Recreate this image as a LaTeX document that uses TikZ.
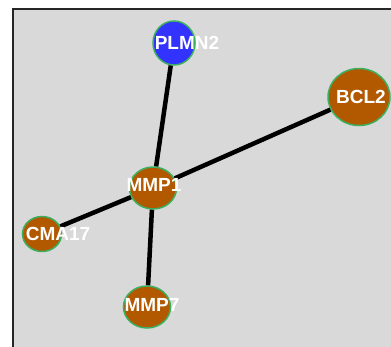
\documentclass[tikz,border=0pt]{standalone}
\usepackage{fontspec}
\setmainfont{Liberation Sans}
\usetikzlibrary{shapes.geometric}

\definecolor{panelgray}{HTML}{D9D9D9}
\definecolor{genebrown}{HTML}{B25900}
\definecolor{geneblue}{HTML}{3333FF}
\definecolor{ringgreen}{HTML}{3CB060}

\tikzset{
  gene/.style={ellipse, draw=ringgreen, line width=1.5pt, fill=genebrown, inner sep=0pt},
  genetext/.style={text=white, font=\fontsize{19}{19}\selectfont\bfseries, inner sep=0pt},
  link/.style={line width=4.5pt, black}
}

\begin{document}
\begin{tikzpicture}[x=1pt,y=-1pt]
    % Canvas
    \useasboundingbox (0,0) rectangle (391,346);
    \clip (0,0) rectangle (391,346);
    \fill[white] (0,0) rectangle (391,346);
    \filldraw[fill=panelgray, draw=black!85, line width=2pt] (13,9) rectangle (400,360);

    % Genes
    \node[gene, fill=geneblue, minimum width=42pt, minimum height=44pt] (plmn) at (174,43) {};
    \node[gene, minimum width=62pt, minimum height=57pt] (bcl) at (359,97) {};
    \node[gene, minimum width=47pt, minimum height=42pt] (mmpa) at (153,188) {};
    \node[gene, minimum width=39pt, minimum height=35pt] (cma) at (42,234) {};
    \node[gene, minimum width=47pt, minimum height=42pt] (mmpb) at (147,307) {};

    % Interactions
    \draw[link] (mmpa) -- (plmn);
    \draw[link] (mmpa) -- (bcl);
    \draw[link] (mmpa) -- (cma);
    \draw[link] (mmpa) -- (mmpb);

    % Labels
    \node[genetext] (plmnlabel) at (187,43) {PLMN2};
    \node[genetext] (bcllabel) at (361,97) {BCL2};
    \node[genetext] (mmpalabel) at (154,185) {MMP1};
    \node[genetext] (cmalabel) at (58,234) {CMA17};
    \node[genetext] (mmpblabel) at (152,305) {MMP7};
\end{tikzpicture}
\end{document}
